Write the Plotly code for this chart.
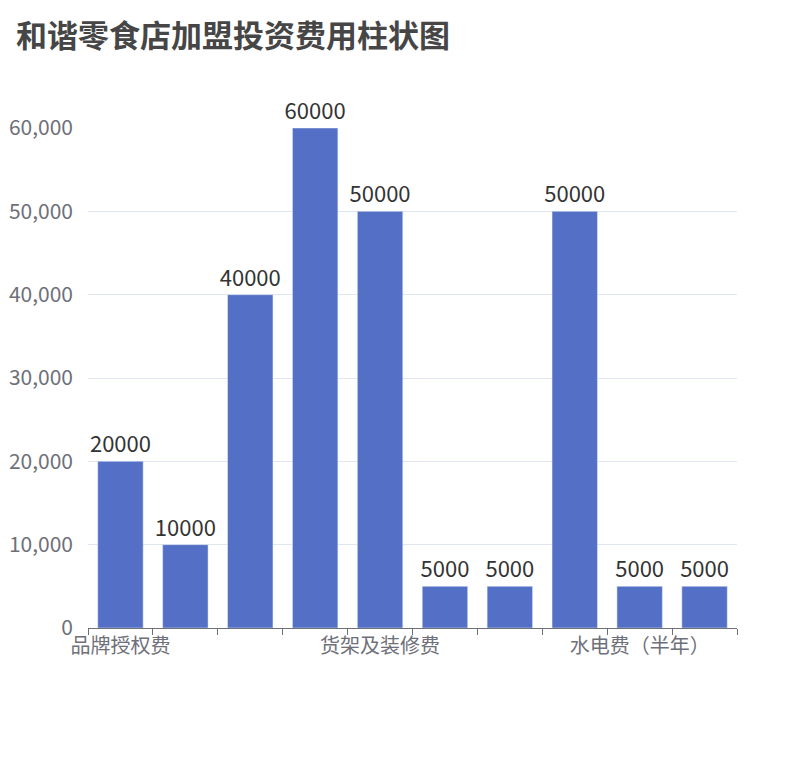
import plotly.graph_objects as go

categories = ["品牌授权费", "加盟保证金", "首批进货费", "店铺租金", "货架及装修费",
              "收银设备费", "人员培训费", "流动资金", "水电费（半年）", "其他杂费"]
values = [20000, 10000, 40000, 60000, 50000, 5000, 5000, 50000, 5000, 5000]
shown = {"品牌授权费", "货架及装修费", "水电费（半年）"}
ticktext = [c if c in shown else "" for c in categories]
yticks = [0, 10000, 20000, 30000, 40000, 50000, 60000]

fig = go.Figure(go.Bar(
    x=categories, y=values, marker_color="#5470c6",
    text=[str(v) for v in values], textposition="outside", constraintext="none",
    textfont=dict(size=22, color="#333"), cliponaxis=False))

fig.update_layout(
    width=810, height=760, paper_bgcolor="white", plot_bgcolor="white",
    margin=dict(l=80, r=81, t=120, b=140),
    font=dict(family="Noto Sans CJK SC", color="#6e7079", size=20),
    title=dict(text="<b>和谐零食店加盟投资费用柱状图</b>", x=0.01, xanchor="left",
               y=0.963, yanchor="middle", font=dict(size=31, color="#464646")),
    bargap=0.3, showlegend=False)
fig.update_xaxes(tickvals=categories, ticktext=ticktext, tickangle=0, automargin=False,
                 tickson="boundaries", ticks="outside", ticklen=6, tickcolor="#6e7079",
                 showline=True, linecolor="#6e7079", showgrid=False,
                 tickfont=dict(size=20, color="#6e7079"))
fig.update_yaxes(range=[0, 60000], tickvals=yticks, automargin=False,
                 ticktext=[f"{v:,}" for v in yticks], gridcolor="#e0e6f1",
                 zeroline=False, ticklabelstandoff=14,
                 tickfont=dict(size=21, color="#6e7079"))
fig.write_html("out.html")
